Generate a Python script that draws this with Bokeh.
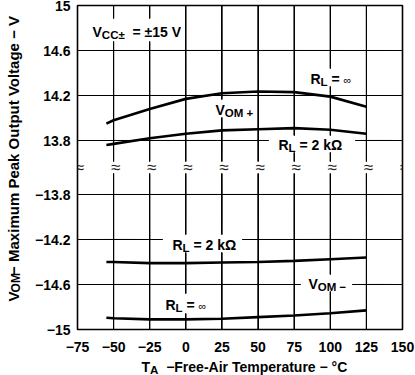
from bokeh.plotting import figure
from bokeh.models import FixedTicker
from bokeh.layouts import row, column
from bokeh.core.properties import value
from bokeh.embed import file_html
from bokeh.resources import INLINE

# ---- data ----
temps = [-55, -50, -25, 0, 25, 50, 75, 100, 125]
vom_pos_inf = [13.95, 13.98, 14.08, 14.17, 14.22, 14.235, 14.23, 14.19, 14.10]
vom_pos_2k = [13.76, 13.77, 13.82, 13.86, 13.89, 13.90, 13.91, 13.895, 13.86]
vom_neg_2k = [-14.40, -14.40, -14.41, -14.41, -14.405, -14.40, -14.39, -14.375, -14.36]
vom_neg_inf = [-14.895, -14.90, -14.91, -14.91, -14.905, -14.89, -14.875, -14.855, -14.83]

x_ticks = [-75, -50, -25, 0, 25, 50, 75, 100, 125, 150]
y_ticks_upper = [15, 14.6, 14.2, 13.8]
y_ticks_lower = [-13.8, -14.2, -14.6, -15]

# broken axis: lower segment is shifted up to sit under the upper one
BREAK_GAP = 0.48
OFFSET = round(13.8 - BREAK_GAP + 13.8, 6)


def lower(v):
    return round(v + OFFSET, 6)


XMIN, XMAX = -75, 150
YMAX = 15
YMIN = lower(-15)
YBREAK = (13.8 + lower(-13.8)) / 2

W, H = 415, 375
YT_W = 24
XT_H = 17
MAIN_W, MAIN_H = W - YT_W, H - XT_H
FL, FR, FT, FB = 77, 402, 5, 329

FONT = "Liberation Sans"
minus = "\u2212"
BASE_CORR = 0.27

PXX = (FR - FL) / (XMAX - XMIN)
PXY = (FB - FT) / (YMAX - YMIN)


def xd(px):
    return XMIN + (px - FL) / PXX


def yd(py):
    return YMAX - (py - FT) / PXY


def main_conv(px, py):
    return xd(px), yd(py)


p = figure(width=MAIN_W, height=MAIN_H, x_range=(XMIN, XMAX), y_range=(YMIN, YMAX),
           output_backend="svg", toolbar_location=None,
           min_border_left=FL - YT_W, min_border_right=W - FR,
           min_border_top=FT, min_border_bottom=MAIN_H - FB)
p.title.visible = False
p.outline_line_color = "black"
p.outline_line_width = 1.6


def fmt(v):
    s = ("%g" % abs(v))
    return (minus + s) if v < 0 else s


yt = list(y_ticks_upper) + [lower(v) for v in y_ticks_lower]
p.xaxis.ticker = FixedTicker(ticks=x_ticks)
p.xaxis.major_label_overrides = {t: fmt(t) for t in x_ticks}
ylabels = {}
for v in y_ticks_upper:
    ylabels[v] = fmt(v)
for v in y_ticks_lower:
    ylabels[lower(v)] = fmt(v)
p.yaxis.ticker = FixedTicker(ticks=yt)
p.yaxis.major_label_overrides = ylabels
for ax in (p.xaxis[0], p.yaxis[0]):
    ax.axis_line_color = None
    ax.major_tick_line_color = None
    ax.minor_tick_line_color = None
    ax.major_tick_out = 0
    ax.major_tick_in = 0
    ax.major_label_text_font = FONT
    ax.major_label_text_font_size = "14px"
    ax.major_label_text_font_style = "bold"
    ax.major_label_text_color = "black"
p.yaxis.major_label_standoff = 7
p.xaxis.major_label_standoff = 12

# built-in grid at the axis ticks
p.xgrid.grid_line_color = "black"
p.xgrid.grid_line_width = 1
p.ygrid.grid_line_color = "black"
p.ygrid.grid_line_width = 1

# clear areas behind in-plot labels (page pixels: left, right, top, bottom)
boxes = [(86, 182, 18, 41), (305, 352, 68, 86), (210, 256, 99, 117),
         (268, 355, 135, 152), (162, 242, 234, 252), (300, 352, 274, 291),
         (159, 210, 293, 313)]
BREAK_BAND = (161, 173)
hw = 6 / PXX
allboxes = list(boxes) + [(FL + (t - XMIN) * PXX - 4, FL + (t - XMIN) * PXX + 8,
                           BREAK_BAND[0], BREAK_BAND[1]) for t in x_ticks[1:-1]]
p.quad(left=[xd(b[0]) for b in allboxes], right=[xd(b[1]) for b in allboxes],
       top=[yd(b[2]) for b in allboxes], bottom=[yd(b[3]) for b in allboxes],
       fill_color="white", line_color=None)


def split(a, b, cuts):
    pieces = [(a, b)]
    for c0, c1 in cuts:
        nxt = []
        for s, e in pieces:
            if c1 <= s or c0 >= e:
                nxt.append((s, e))
            else:
                if c0 > s:
                    nxt.append((s, c0))
                if c1 < e:
                    nxt.append((c1, e))
        pieces = nxt
    return pieces


# grid pieces (broken at labels / break band), drawn as polylines
gxs, gys = [], []
for t in x_ticks[1:-1]:
    px = FL + (t - XMIN) * PXX
    cuts = [(b[2], b[3]) for b in boxes if b[0] <= px <= b[1]] + [BREAK_BAND]
    for s, e in split(FT, FB, cuts):
        m = (s + e) / 2
        gxs.append([t, t + 0.02 / PXX, t])
        gys.append([yd(s), yd(m), yd(e)])
for v in yt[1:-1]:
    py = FT + (YMAX - v) * PXY
    cuts = [(b[0], b[1]) for b in boxes if b[2] <= py <= b[3]]
    for s, e in split(FL, FR, cuts):
        m = (s + e) / 2
        gxs.append([xd(s), xd(m), xd(e)])
        gys.append([v, v + 0.02 / PXY, v])
p.multi_line(xs=gxs, ys=gys, line_color="black", line_width=1)
for xs_i, ys_i in zip(gxs, gys):
    p.line(x=xs_i, y=ys_i, line_color="black", line_width=1)

# curves
p.line(temps, vom_pos_inf, line_color="black", line_width=2.6)
p.line(temps, vom_pos_2k, line_color="black", line_width=2.6)
p.line(temps, [lower(v) for v in vom_neg_2k], line_color="black", line_width=2.6)
p.line(temps, [lower(v) for v in vom_neg_inf], line_color="black", line_width=2.6)

# break markers
p.text(x=[t + 2 / PXX for t in x_ticks], y=[YBREAK] * len(x_ticks),
       text=["\u2248"] * len(x_ticks), text_font=value(FONT),
       text_font_size=value("17px"), text_align="center", text_baseline="middle",
       text_color="#222222")

MET = {' ': 278, '=': 584, '\u00b1': 549, minus: 584, '-': 333, '+': 584, '.': 278,
       '\u00b0': 400, 'A': 722, 'C': 722, 'F': 611, 'L': 611, 'M': 833, 'O': 778,
       'P': 667, 'R': 722, 'T': 611, 'V': 667, 'a': 556, 'e': 556, 'g': 611,
       'i': 278, 'k': 556, 'l': 278, 'm': 889, 'o': 611, 'p': 611, 'r': 389,
       't': 333, 'u': 611, 'x': 556, '\u03a9': 768, '\u221e': 713}


def tw(s, size):
    return sum(MET.get(c, 556) for c in s) * size / 1000.0


def rich(fig, conv, x_px, y_px, parts, angle=0.0):
    adv = 0.0
    for text, size, dyp, bold in parts:
        lead = len(text) - len(text.lstrip(' '))
        core = text.strip(' ')
        pos = adv + tw(' ' * lead, size)
        corr = -BASE_CORR * size
        if angle == 0:
            lx, ly = x_px + pos, y_px + dyp + corr
        else:
            lx, ly = x_px + dyp + corr, y_px - pos
        X, Y = conv(lx, ly)
        fig.text(x=[X], y=[Y], text=[core], angle=angle,
                 text_font=value(FONT), text_font_size=value("%gpx" % size),
                 text_font_style="bold" if bold else "normal",
                 text_color="black", text_baseline="alphabetic", text_align="left")
        adv += tw(text, size)


SUB = 11.5
rich(p, main_conv, 92, 35, [("V", 14, 0, True), ("CC\u00b1", SUB, 2.5, True),
                            ("  = ", 14, 0, True), ("\u00b115 V", 14, 0, True)])
rich(p, main_conv, 310, 82, [("R", 14, 0, True), ("L", SUB, 2.5, True), (" = ", 14, 0, True),
                             ("\u221e", 11, 0, False)])
rich(p, main_conv, 215, 113, [("V", 14, 0, True), ("OM +", SUB, 2.5, True)])
rich(p, main_conv, 278, 148, [("R", 14, 0, True), ("L", SUB, 2.5, True), (" = 2 k\u03a9", 14, 0, True)])
rich(p, main_conv, 172, 248, [("R", 14, 0, True), ("L", SUB, 2.5, True), (" = 2 k\u03a9", 14, 0, True)])
rich(p, main_conv, 308, 287, [("V", 14, 0, True), ("OM " + minus, SUB, 2.5, True)])
rich(p, main_conv, 165, 308, [("R", 14, 0, True), ("L", SUB, 2.5, True), (" = ", 14, 0, True),
                              ("\u221e", 11, 0, False)])


def strip_fig(w, h):
    f = figure(width=w, height=h, x_range=(0, w), y_range=(0, h),
               output_backend="svg", toolbar_location=None,
               x_axis_type=None, y_axis_type=None,
               min_border=0, min_border_left=0, min_border_right=0,
               min_border_top=0, min_border_bottom=0)
    f.title.visible = False
    f.outline_line_color = None
    return f


ytf = strip_fig(YT_W, MAIN_H)
rich(ytf, lambda px, py: (px, MAIN_H - py), 17, 327,
     [("V", 15, 0, True), ("OM", 12, 1.5, True),
      (minus + " Maximum Peak Output Voltage " + minus + " V", 15, 0, True)],
     angle=1.5707963267948966)

xtf = strip_fig(W, XT_H)
rich(xtf, lambda px, py: (px, H - py), 141, 370,
     [("T", 14, 0, True), ("A", SUB, 2.5, True),
      ("  " + minus + "Free-Air Temperature " + minus + " \u00b0C", 14, 0, True)])

layout = column(row(ytf, p), xtf)
open("out.html", "w").write(file_html(layout, INLINE))
